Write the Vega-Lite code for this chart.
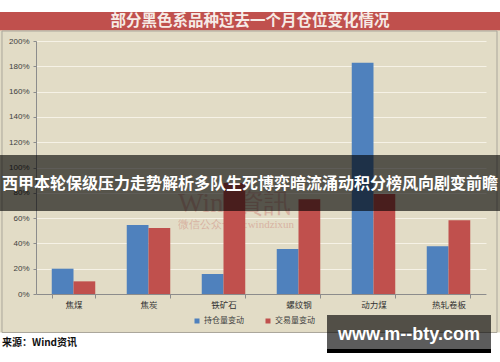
{
  "$schema": "https://vega.github.io/schema/vega-lite/v6.json",
  "width": 450,
  "height": 253,
  "autosize": {"type": "none"},
  "padding": {"left": 36, "top": 41, "right": 14, "bottom": 68},
  "background": "#e2dcc6",
  "config": {
    "view": {"stroke": null},
    "font": "Noto Sans CJK SC"
  },
  "resolve": {"axis": {"x": "independent", "y": "independent"}},
  "datasets": {
    "bars": [
      {"品种": "焦煤", "系列": "持仓量变动", "变动": 0.2},
      {"品种": "焦煤", "系列": "交易量变动", "变动": 0.1},
      {"品种": "焦炭", "系列": "持仓量变动", "变动": 0.545},
      {"品种": "焦炭", "系列": "交易量变动", "变动": 0.522},
      {"品种": "铁矿石", "系列": "持仓量变动", "变动": 0.158},
      {"品种": "铁矿石", "系列": "交易量变动", "变动": 0.877},
      {"品种": "螺纹钢", "系列": "持仓量变动", "变动": 0.356},
      {"品种": "螺纹钢", "系列": "交易量变动", "变动": 0.749},
      {"品种": "动力煤", "系列": "持仓量变动", "变动": 1.828},
      {"品种": "动力煤", "系列": "交易量变动", "变动": 0.79},
      {"品种": "热轧卷板", "系列": "持仓量变动", "变动": 0.377},
      {"品种": "热轧卷板", "系列": "交易量变动", "变动": 0.583}
    ],
    "one": [{}]
  },
  "layer": [
    {
      "data": {"name": "bars"},
      "mark": {"type": "bar"},
      "encoding": {
        "x": {
          "field": "品种", "type": "nominal", "title": null,
          "sort": ["焦煤", "焦炭", "铁矿石", "螺纹钢", "动力煤", "热轧卷板"],
          "scale": {"paddingInner": 0.42, "paddingOuter": 0.21},
          "axis": {"title": null, "labelAngle": 0, "labelFontSize": 8.5, "labelColor": "#333333", "domainColor": "#8c8c8c", "tickColor": "#8c8c8c", "tickSize": 4, "tickBand": "extent", "labelPadding": 2}
        },
        "xOffset": {"field": "系列", "sort": ["持仓量变动", "交易量变动"]},
        "y": {
          "field": "变动", "type": "quantitative", "title": null,
          "scale": {"domain": [0, 2], "nice": false},
          "axis": {"title": null, "format": ".0%", "values": [0, 0.2, 0.4, 0.6, 0.8, 1, 1.2, 1.4, 1.6, 1.8, 2], "labelOverlap": false, "labelFontSize": 8, "labelColor": "#404040", "labelFont": "Liberation Sans", "domainColor": "#8c8c8c", "tickColor": "#8c8c8c", "tickSize": 3, "labelPadding": 4, "gridColor": "#f6f2e6", "gridWidth": 1}
        },
        "color": {
          "field": "系列", "type": "nominal",
          "scale": {"domain": ["持仓量变动", "交易量变动"], "range": ["#4f81bd", "#c0504d"]},
          "legend": {"title": null, "orient": "none", "legendX": 157, "legendY": 276, "direction": "horizontal", "symbolType": "square", "symbolSize": 25, "symbolStrokeWidth": 0, "labelFontSize": 8, "labelColor": "#404040", "columnPadding": 20, "labelOffset": 3, "padding": 0}
        }
      }
    },
    {
      "data": {"name": "one"},
      "mark": {"type": "rect", "color": "#ffffff"},
      "encoding": {
        "x": {"datum": "焦煤", "bandPosition": -1.3, "axis": null},
        "x2": {"datum": "热轧卷板", "bandPosition": 1.8},
        "y": {"datum": 2.4, "axis": null},
        "y2": {"datum": 2.229}
      }
    },
    {
      "data": {"name": "one"},
      "mark": {"type": "rect", "color": "#c0504d"},
      "encoding": {
        "x": {"datum": "焦煤", "bandPosition": -1.3, "axis": null},
        "x2": {"datum": "热轧卷板", "bandPosition": 1.8},
        "y": {"datum": 2.229, "axis": null},
        "y2": {"datum": 2.085}
      }
    },
    {
      "data": {"name": "one"},
      "mark": {"type": "rect", "color": "#ffffff"},
      "encoding": {
        "x": {"datum": "焦煤", "bandPosition": -1.3, "axis": null},
        "x2": {"datum": "热轧卷板", "bandPosition": 1.8},
        "y": {"datum": -0.3045, "axis": null},
        "y2": {"datum": -0.6}
      }
    },
    {
      "data": {"name": "one"},
      "mark": {"type": "rect", "fill": null, "stroke": "#aaa69b", "strokeWidth": 1},
      "encoding": {
        "x": {"datum": "焦煤", "bandPosition": -1.144, "axis": null},
        "x2": {"datum": "热轧卷板", "bandPosition": 1.615},
        "y": {"datum": 2.079, "axis": null},
        "y2": {"datum": -0.3043}
      }
    },
    {
      "data": {"name": "one"},
      "mark": {"type": "text", "text": "部分黑色系品种过去一个月仓位变化情况", "fontSize": 15.5, "fontWeight": "bold", "color": "#f6ebe6", "baseline": "middle", "align": "center"},
      "encoding": {
        "x": {"datum": "螺纹钢", "bandPosition": -0.615, "axis": null},
        "y": {"datum": 2.158, "axis": null}
      }
    },
    {
      "data": {"name": "one"},
      "mark": {"type": "text", "text": "Wind資訊", "font": "Liberation Serif", "fontSize": 27, "color": "#c0504d", "opacity": 0.3, "baseline": "middle", "align": "left"},
      "encoding": {
        "x": {"datum": "铁矿石", "bandPosition": -0.546, "axis": null},
        "y": {"datum": 0.711, "axis": null}
      }
    },
    {
      "data": {"name": "one"},
      "mark": {"type": "text", "text": "微信公众号ID:windzixun", "font": "Liberation Serif", "fontSize": 11, "color": "#c0504d", "opacity": 0.3, "baseline": "middle", "align": "left"},
      "encoding": {
        "x": {"datum": "铁矿石", "bandPosition": -0.546, "axis": null},
        "y": {"datum": 0.545, "axis": null}
      }
    },
    {
      "data": {"name": "one"},
      "mark": {"type": "rect", "color": "#000000", "opacity": 0.62},
      "encoding": {
        "x": {"datum": "焦煤", "bandPosition": -1.3, "axis": null},
        "x2": {"datum": "热轧卷板", "bandPosition": 1.8},
        "y": {"datum": 1.0988, "axis": null},
        "y2": {"datum": 0.6561}
      }
    },
    {
      "data": {"name": "one"},
      "mark": {"type": "text", "text": "西甲本轮保级压力走势解析多队生死博弈暗流涌动积分榜风向剧变前瞻", "fontSize": 16, "fontWeight": "bold", "color": "#ffffff", "baseline": "middle", "align": "center"},
      "encoding": {
        "x": {"datum": "螺纹钢", "bandPosition": -0.615, "axis": null},
        "y": {"datum": 0.87, "axis": null}
      }
    },
    {
      "data": {"name": "one"},
      "mark": {"type": "rect", "color": "#000000", "opacity": 0.64},
      "encoding": {
        "x": {"datum": "热轧卷板", "bandPosition": -2.293, "axis": null},
        "x2": {"datum": "热轧卷板", "bandPosition": 1.477},
        "y": {"datum": -0.166, "axis": null},
        "y2": {"datum": -0.4348}
      }
    },
    {
      "data": {"name": "one"},
      "mark": {"type": "rect", "color": "#000000"},
      "encoding": {
        "x": {"datum": "热轧卷板", "bandPosition": -2.293, "axis": null},
        "x2": {"datum": "热轧卷板", "bandPosition": 1.477},
        "y": {"datum": -0.4348, "axis": null},
        "y2": {"datum": -0.4664}
      }
    },
    {
      "data": {"name": "one"},
      "mark": {"type": "text", "text": "www.m--bty.com", "font": "Liberation Sans", "fontSize": 18, "fontWeight": "bold", "color": "#ffffff", "baseline": "middle", "align": "center"},
      "encoding": {
        "x": {"datum": "热轧卷板", "bandPosition": -0.408, "axis": null},
        "y": {"datum": -0.328, "axis": null}
      }
    },
    {
      "data": {"name": "one"},
      "mark": {"type": "text", "text": "来源：Wind资讯", "fontSize": 10, "fontWeight": "bold", "color": "#111111", "baseline": "middle", "align": "left"},
      "encoding": {
        "x": {"datum": "焦煤", "bandPosition": -1.144, "axis": null},
        "y": {"datum": -0.387, "axis": null}
      }
    }
  ]
}
